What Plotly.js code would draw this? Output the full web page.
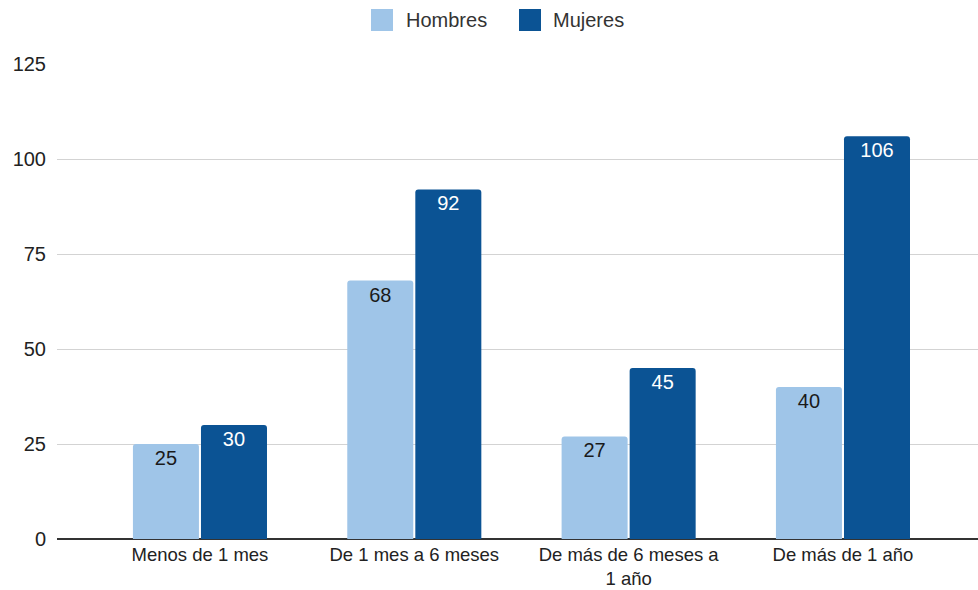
<!DOCTYPE html>
<html>
<head>
<meta charset="utf-8">
<script src="https://cdn.plot.ly/plotly-3.0.1.min.js"></script>
<style>html,body{margin:0;padding:0;background:#fff;}#chart{width:978px;height:590px;}</style>
</head>
<body>
<div id="chart"></div>
<script>
const categories = ["Menos de 1 mes", "De 1 mes a 6 meses", "De más de 6 meses a<br>1 año", "De más de 1 año"];
const seriesNames = ["Hombres", "Mujeres"];
const hombres = [25, 68, 27, 40];
const mujeres = [30, 92, 45, 106];
const yTicks = [0, 25, 50, 75, 100, 125];

const font = "'Liberation Sans', Arial, sans-serif";
const FS = 20;
const colors = ["#9fc5e8", "#0b5394"];
const labelColors = ["#1a1a1a", "#ffffff"];
const traces = [hombres, mujeres].map((vals, i) => ({
  type: "bar", name: seriesNames[i], x: categories, y: vals,
  marker: {color: colors[i], cornerradius: 3},
  text: vals.map(String), textposition: "inside", insidetextanchor: "end",
  textfont: {family: font, size: FS, color: labelColors[i]}, textangle: 0,
  insidetextfont: {family: font, size: FS, color: labelColors[i]},
  cliponaxis: false
}));

const W = 978, H = 590, ML = 57, MR = 0, MT = 64, MB = 51;
const px2x = px => (px - ML) / (W - ML - MR);
const px2y = py => (H - MB - py) / (H - MT - MB);

// legend drawn as shapes + text
const legendItems = [{x: 371, tx: 404}, {x: 519, tx: 551}];
const shapes = legendItems.map((it, i) => ({
  type: "rect", xref: "paper", yref: "paper",
  x0: px2x(it.x), x1: px2x(it.x + 22), y0: px2y(31), y1: px2y(9),
  fillcolor: colors[i], line: {width: 0}
}));
const annotations = legendItems.map((it, i) => ({
  xref: "paper", yref: "paper", x: px2x(it.tx), y: px2y(20),
  xanchor: "left", yanchor: "middle", showarrow: false,
  text: seriesNames[i], font: {family: font, size: FS, color: "#333"}
}));

const layout = {
  width: W, height: H,
  margin: {l: ML, r: MR, t: MT, b: MB, autoexpand: false},
  paper_bgcolor: "#fff", plot_bgcolor: "#fff",
  font: {family: font, size: FS, color: "#222"},
  barmode: "group", bargap: 0.365, bargroupgap: 0.03,
  showlegend: false,
  shapes: shapes, annotations: annotations,
  xaxis: {
    type: "category", range: [-0.667, 3.63], showgrid: false, zeroline: false,
    showline: false, ticks: "",
    tickfont: {family: font, size: 18.5, color: "#222"},
    ticklabelstandoff: 2, automargin: false
  },
  yaxis: {
    range: [0, 125], tickvals: yTicks, ticktext: yTicks.map(String),
    showgrid: true, gridcolor: "#d3d3d3", gridwidth: 1,
    zeroline: true, zerolinecolor: "#333", zerolinewidth: 2,
    showline: false, ticks: "", tickfont: {family: font, size: FS, color: "#222"},
    ticklabelstandoff: 10, automargin: false
  }
};
Plotly.newPlot("chart", traces, layout, {displayModeBar: false, staticPlot: true});
</script>
</body>
</html>
